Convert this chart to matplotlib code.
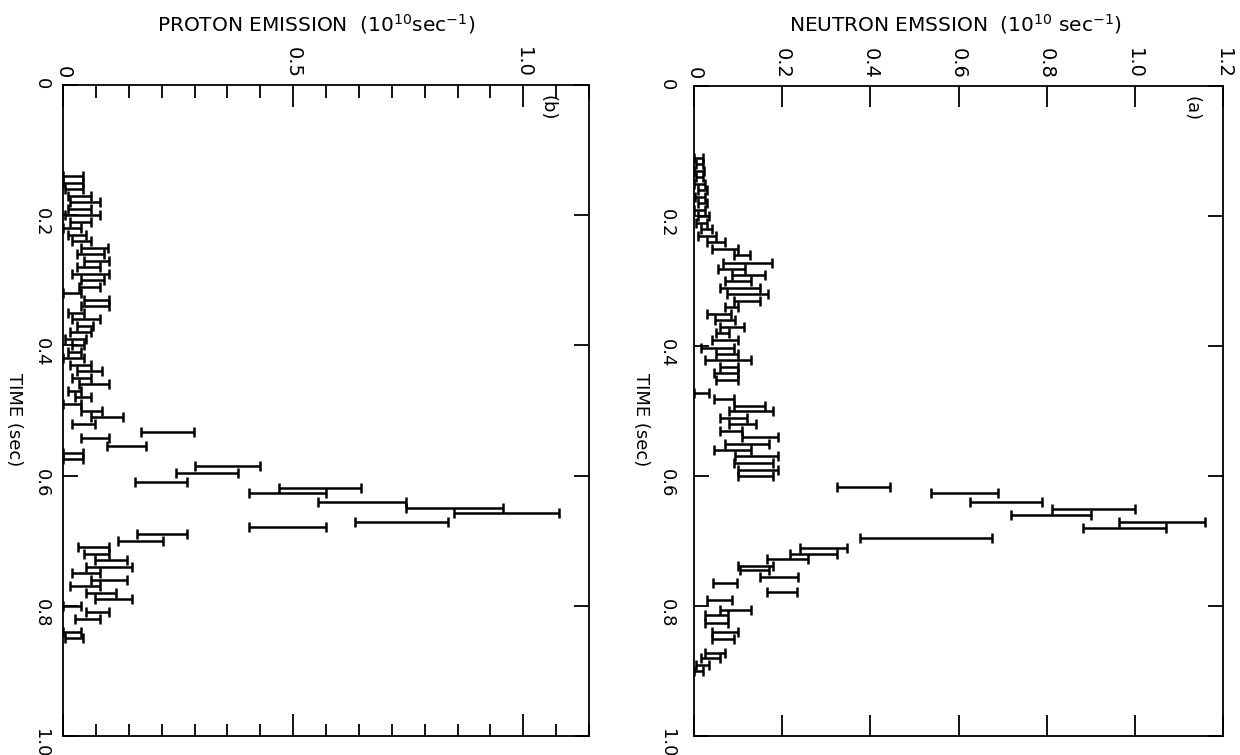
import numpy as np
import matplotlib
matplotlib.use("Agg")
import matplotlib.pyplot as plt
from matplotlib import font_manager
from matplotlib.ticker import FixedLocator, MultipleLocator, FuncFormatter

# proton emission, panel (b): time (sec), lower and upper end of each bar (1e10 /sec)
proton_t = [0.140, 0.150, 0.160, 0.170, 0.180, 0.190, 0.200, 0.210, 0.220, 0.230,
            0.240, 0.250, 0.260, 0.270, 0.280, 0.290, 0.300, 0.310, 0.320, 0.330,
            0.340, 0.350, 0.360, 0.370, 0.380, 0.390, 0.400, 0.410, 0.420, 0.430,
            0.440, 0.450, 0.460, 0.470, 0.480, 0.490, 0.500, 0.510, 0.520, 0.533,
            0.542, 0.555, 0.565, 0.575, 0.585, 0.596, 0.610, 0.619, 0.627, 0.640,
            0.650, 0.658, 0.671, 0.679, 0.690, 0.700, 0.710, 0.720, 0.730, 0.740,
            0.750, 0.760, 0.770, 0.780, 0.790, 0.800, 0.810, 0.820, 0.840, 0.850]
proton_lo = [0.000, 0.000, 0.005, 0.010, 0.015, 0.010, 0.005, 0.015, 0.000, 0.010,
             0.020, 0.040, 0.030, 0.045, 0.030, 0.020, 0.040, 0.035, 0.000, 0.045,
             0.040, 0.010, 0.020, 0.030, 0.015, 0.005, 0.020, 0.010, 0.000, 0.015,
             0.030, 0.020, 0.035, 0.010, 0.025, 0.000, 0.040, 0.060, 0.020, 0.170,
             0.040, 0.095, 0.000, 0.000, 0.286, 0.246, 0.156, 0.470, 0.405, 0.553,
             0.745, 0.850, 0.635, 0.405, 0.160, 0.120, 0.033, 0.045, 0.070, 0.050,
             0.020, 0.060, 0.015, 0.050, 0.070, 0.000, 0.050, 0.025, 0.000, 0.005]
proton_hi = [0.043, 0.043, 0.043, 0.060, 0.080, 0.060, 0.080, 0.060, 0.040, 0.050,
             0.060, 0.098, 0.090, 0.100, 0.080, 0.100, 0.090, 0.080, 0.040, 0.100,
             0.100, 0.045, 0.080, 0.065, 0.060, 0.050, 0.045, 0.040, 0.045, 0.060,
             0.085, 0.060, 0.100, 0.040, 0.060, 0.040, 0.085, 0.130, 0.070, 0.285,
             0.100, 0.180, 0.043, 0.043, 0.427, 0.380, 0.270, 0.648, 0.572, 0.745,
             0.957, 1.077, 0.836, 0.572, 0.270, 0.217, 0.100, 0.100, 0.138, 0.150,
             0.080, 0.138, 0.080, 0.116, 0.150, 0.040, 0.100, 0.080, 0.040, 0.043]

# neutron emission, panel (a)
neutron_t = [0.110, 0.120, 0.130, 0.140, 0.150, 0.160, 0.170, 0.180, 0.190, 0.200,
             0.210, 0.220, 0.230, 0.240, 0.250, 0.260, 0.272, 0.282, 0.290, 0.300,
             0.310, 0.320, 0.330, 0.340, 0.350, 0.360, 0.370, 0.380, 0.390, 0.403,
             0.412, 0.421, 0.432, 0.442, 0.452, 0.472, 0.482, 0.492, 0.500, 0.510,
             0.520, 0.530, 0.540, 0.550, 0.560, 0.570, 0.580, 0.590, 0.600, 0.617,
             0.626, 0.640, 0.650, 0.660, 0.671, 0.680, 0.695, 0.710, 0.720, 0.728,
             0.738, 0.745, 0.755, 0.765, 0.778, 0.790, 0.806, 0.814, 0.826, 0.840,
             0.850, 0.873, 0.880, 0.890, 0.900]
neutron_lo = [0.000, 0.005, 0.000, 0.005, 0.000, 0.008, 0.003, 0.010, 0.000, 0.010,
              0.005, 0.015, 0.010, 0.030, 0.040, 0.090, 0.066, 0.055, 0.087, 0.070,
              0.060, 0.075, 0.090, 0.070, 0.030, 0.047, 0.060, 0.050, 0.040, 0.015,
              0.050, 0.026, 0.060, 0.045, 0.050, 0.000, 0.045, 0.090, 0.080, 0.060,
              0.080, 0.060, 0.110, 0.070, 0.045, 0.094, 0.090, 0.100, 0.100, 0.325,
              0.538, 0.625, 0.813, 0.720, 0.963, 0.883, 0.376, 0.240, 0.218, 0.165,
              0.100, 0.105, 0.150, 0.043, 0.165, 0.030, 0.060, 0.025, 0.025, 0.040,
              0.040, 0.025, 0.015, 0.005, 0.000]
neutron_hi = [0.020, 0.020, 0.022, 0.020, 0.025, 0.030, 0.025, 0.030, 0.025, 0.035,
              0.030, 0.040, 0.050, 0.070, 0.100, 0.128, 0.177, 0.115, 0.160, 0.130,
              0.150, 0.168, 0.150, 0.100, 0.085, 0.094, 0.113, 0.080, 0.100, 0.090,
              0.100, 0.130, 0.100, 0.100, 0.100, 0.034, 0.090, 0.160, 0.180, 0.120,
              0.140, 0.110, 0.190, 0.170, 0.130, 0.190, 0.180, 0.190, 0.180, 0.445,
              0.690, 0.790, 1.000, 0.900, 1.160, 1.070, 0.675, 0.347, 0.325, 0.258,
              0.180, 0.170, 0.236, 0.097, 0.233, 0.087, 0.130, 0.077, 0.077, 0.100,
              0.090, 0.070, 0.060, 0.035, 0.020]

time_ticks = [0, 0.2, 0.4, 0.6, 0.8, 1.0]
proton_ticks = [0, 0.5, 1.0]
neutron_ticks = [0, 0.2, 0.4, 0.6, 0.8, 1.0, 1.2]

names = {f.name for f in font_manager.fontManager.ttflist}
family = "Liberation Sans Narrow" if "Liberation Sans Narrow" in names else "DejaVu Sans"
plt.rcParams["font.family"] = [family, "DejaVu Sans"]
plt.rcParams["mathtext.default"] = "regular"

fmt = FuncFormatter(lambda v, p: "0" if abs(v) < 1e-9 else f"{v:.1f}")

W, H = 1240, 755
fig = plt.figure(figsize=(12.4, 7.55), dpi=100)
axb = fig.add_axes([63 / W, 1 - 736 / H, (589 - 63) / W, (736 - 85) / H])
axa = fig.add_axes([694 / W, 1 - 736 / H, (1223 - 694) / W, (736 - 86) / H])


def bars(ax, t, lo, hi):
    lo = np.array(lo)
    hi = np.array(hi)
    ax.errorbar((lo + hi) / 2, t, xerr=(hi - lo) / 2, fmt="none", ecolor="black",
                elinewidth=1.8, capsize=3.5, capthick=1.8)


def style(ax, xmax, xticks, xlen, ypad):
    ax.set_xlim(0, xmax)
    ax.set_ylim(1.0, 0)
    ax.xaxis.set_major_locator(FixedLocator(xticks))
    ax.xaxis.set_major_formatter(fmt)
    ax.yaxis.set_major_locator(FixedLocator(time_ticks))
    ax.yaxis.set_major_formatter(fmt)
    ax.tick_params(axis="x", which="major", direction="in", top=True, bottom=True,
                   labeltop=True, labelbottom=False, labelrotation=-90,
                   labelsize=14, length=xlen, width=1.3, pad=5)
    ax.tick_params(axis="y", which="major", direction="in", left=True, right=True,
                   labelleft=True, labelright=False, labelrotation=-90,
                   labelsize=13, length=11, width=1.3, pad=ypad)
    for s in ax.spines.values():
        s.set_linewidth(1.3)


bars(axb, proton_t, proton_lo, proton_hi)
style(axb, 8 / 7, proton_ticks, 16, 9)
axb.xaxis.set_minor_locator(MultipleLocator(0.5 / 7))
axb.tick_params(axis="x", which="minor", direction="in", top=True, bottom=True,
                length=9, width=1.3)
axb.text(0.922, 0.965, "(b)", transform=axb.transAxes, rotation=-90,
         fontsize=13, ha="center", va="center")

bars(axa, neutron_t, neutron_lo, neutron_hi)
style(axa, 1.2, neutron_ticks, 15, 13)
axa.text(0.94, 0.965, "(a)", transform=axa.transAxes, rotation=-90,
         fontsize=13, ha="center", va="center")

fig.text(316 / W, 1 - 24 / H, "PROTON EMISSION  (10$^{10}$sec$^{-1}$)",
         ha="center", va="center", fontsize=14.5)
fig.text(956 / W, 1 - 24 / H, "NEUTRON EMSSION  (10$^{10}$ sec$^{-1}$)",
         ha="center", va="center", fontsize=14.5)
fig.text(14 / W, 1 - 420 / H, "TIME (sec)", rotation=-90,
         ha="center", va="center", fontsize=13)
fig.text(641 / W, 1 - 420 / H, "TIME (sec)", rotation=-90,
         ha="center", va="center", fontsize=13)

fig.savefig("out.png", dpi=100)
